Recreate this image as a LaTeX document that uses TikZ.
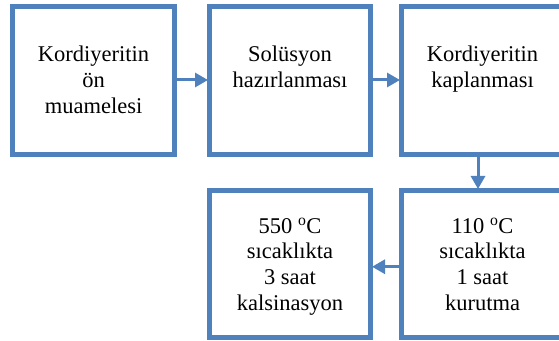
\documentclass[tikz,border=0pt]{standalone}
\usepackage{fontspec}
\setmainfont{Liberation Serif}
\usetikzlibrary{arrows.meta,calc}
\definecolor{boxblue}{HTML}{4F81BD}
\tikzset{
  procbox/.style={draw=boxblue, line width=5pt, rectangle, inner sep=0pt, fill=white},
  txt/.style={align=center, inner sep=0pt, font=\fontsize{22.5}{25.7}\selectfont, anchor=base},
  flow/.style={draw=boxblue, line width=3pt, -{Triangle[length=13pt,width=14pt]}, shorten >=-1pt}
}
\begin{document}
\begin{tikzpicture}[x=1pt,y=1pt]
\useasboundingbox (0,0) rectangle (559,340);
\clip (0,0) rectangle (559,340);
\node[procbox, minimum width=162pt, minimum height=148pt] (b1) at (93.5,259.5) {};
\node[procbox, minimum width=161pt, minimum height=148pt] (b2) at (290,259.5) {};
\node[procbox, minimum width=162pt, minimum height=148pt] (b3) at (482.5,259.5) {};
\node[procbox, minimum width=162pt, minimum height=146.5pt] (b4) at (482.5,76.25) {};
\node[procbox, minimum width=161pt, minimum height=146.5pt] (b5) at (290,76.25) {};
\node[txt] (t1) at (93.5,226.6) {Kordiyeritin\\ön\\muamelesi};
\node[txt] (t2) at (290,252.3) {Solüsyon\\hazırlanması};
\node[txt] (t3) at (482.5,252.3) {Kordiyeritin\\kaplanması};
\node[txt] (t4) at (482.5,29.9) {110 \textsuperscript{o}C\\sıcaklıkta\\1 saat\\kurutma};
\node[txt] (t5) at (290,29.9) {550 \textsuperscript{o}C\\sıcaklıkta\\3 saat\\kalsinasyon};
\draw[flow] ([yshift=0.5pt]b1.east) -- ([yshift=0.5pt]b2.west);
\draw[flow] ([yshift=0.5pt]b2.east) -- ([yshift=0.5pt]b3.west);
\draw[flow] ([xshift=-4.5pt]b3.south) -- ([xshift=-4.5pt]b4.north);
\draw[flow] ([yshift=-3pt]b4.west) -- ([yshift=-3pt]b5.east);
\end{tikzpicture}
\end{document}
